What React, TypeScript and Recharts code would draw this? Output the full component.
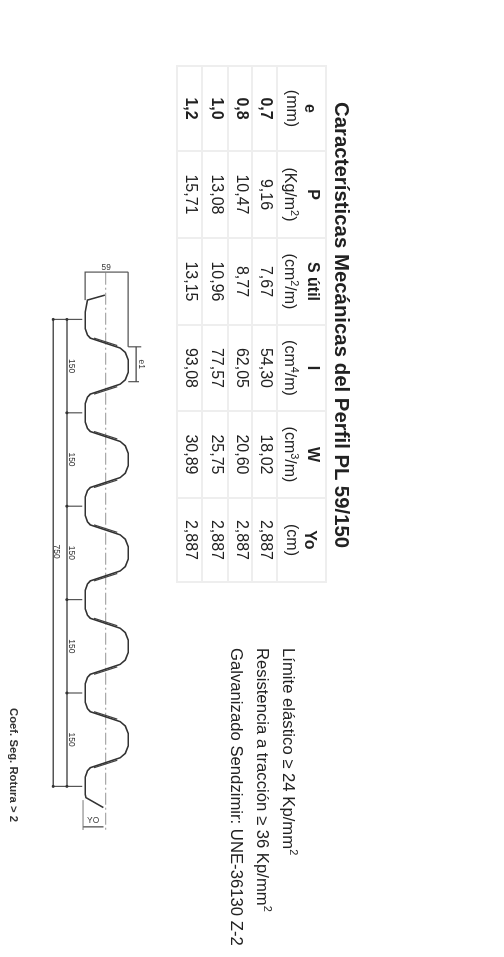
import React from 'react';
import { LineChart, Line, XAxis, YAxis, ReferenceDot } from 'recharts';

// table values
const tableTitle = 'Características Mecánicas del Perfil PL 59/150';
const thicknesses = ['0,7', '0,8', '1,0', '1,2'];
const weights = ['9,16', '10,47', '13,08', '15,71'];
const sections = ['7,67', '8,77', '10,96', '13,15'];
const inertias = ['54,30', '62,05', '77,57', '93,08'];
const moduli = ['18,02', '20,60', '25,75', '30,89'];
const centroids = ['2,887', '2,887', '2,887', '2,887'];

// sheet profile, mm along the sheet / mm of height
const profilePos = [
  -39, -31, -12,
  15, 25, 30, 46, 53, 65, 85, 97, 104, 120, 125, 135,
  165, 175, 180, 196, 203, 215, 235, 247, 254, 270, 275, 285,
  315, 325, 330, 346, 353, 365, 385, 397, 404, 420, 425, 435,
  465, 475, 480, 496, 503, 515, 535, 547, 554, 570, 575, 585,
  615, 625, 630, 646, 653, 665, 685, 697, 704, 720, 725, 735,
  763, 768, 784,
];
const profileHeight = [
  27, 3, 0,
  0, 3, 7, 48, 55, 59, 59, 55, 48, 7, 3, 0,
  0, 3, 7, 48, 55, 59, 59, 55, 48, 7, 3, 0,
  0, 3, 7, 48, 55, 59, 59, 55, 48, 7, 3, 0,
  0, 3, 7, 48, 55, 59, 59, 55, 48, 7, 3, 0,
  0, 3, 7, 48, 55, 59, 59, 55, 48, 7, 3, 0,
  0, 1, 25,
];

// second line on the flanks
const stiffPos = [
  30, 42, 43, 108, 120, 121,
  180, 192, 193, 258, 270, 271,
  330, 342, 343, 408, 420, 421,
  480, 492, 493, 558, 570, 571,
  630, 642, 643, 708, 720, 721,
];
const stiffHeight = [
  12, 44, null, 44, 12, null,
  12, 44, null, 44, 12, null,
  12, 44, null, 44, 12, null,
  12, 44, null, 44, 12, null,
  12, 44, null, 44, 12, null,
];

// dimension lines
const chainPos = [0, 150, 300, 450, 600, 750];
const chainHeight = [-25, -25, -25, -25, -25, -25];
const totalPos = [0, 750];
const totalHeight = [-44, -44];
const axisPos = [-75, 820];
const axisHeight = [28, 28];

const extensionPos = [
  0, 0, 1, 150, 150, 151, 300, 300, 301, 450, 450, 451, 600, 600, 601, 750, 750, 751,
  -76, -76, -75, -76, -76, -31, -30, -76, 44, 45, 44, 44, 45, 100, 100, 101, 70,
];
const extensionHeight = [
  -44, -4, null, -27, -4, null, -27, -4, null, -27, -4, null, -27, -4, null, -44, -4, null,
  0, 59, null, 59, 0, 0, null, 59, 59, null, 59, 77, null, 59, 74, null, null,
];
const e1Pos = [44, 100];
const e1Height = [70, 70];
const yoPos = [815, 815];
const yoHeight = [-3, 25];
const yoExtPos = [772, 820];
const yoExtHeight = [-3, -3];

const chainLabelPos = [75, 225, 375, 525, 675];

const toRows = (pos: number[], height: (number | null)[]) =>
  pos.map((p, i) => ({ p, h: height[i] }));

const textFont = '"Liberation Sans", Arial, sans-serif';
const grid = '2px solid #eeeeee';
const colWidths = [85, 87, 87, 86, 87, 84];
const rowHeights = [25, 24, 26, 25];

const headers = [
  { name: 'e', unit: <>(mm)</> },
  { name: 'P', unit: <>(Kg/m<sup style={{ fontSize: 11 }}>2</sup>)</> },
  { name: 'S útil', unit: <>(cm<sup style={{ fontSize: 11 }}>2</sup>/m)</> },
  { name: 'I', unit: <>(cm<sup style={{ fontSize: 11 }}>4</sup>/m)</> },
  { name: 'W', unit: <>(cm<sup style={{ fontSize: 11 }}>3</sup>/m)</> },
  { name: 'Yo', unit: <>(cm)</> },
];

const columns = [thicknesses, weights, sections, inertias, moduli, centroids];

const cellStyle: React.CSSProperties = {
  border: grid,
  padding: 0,
  textAlign: 'center',
  verticalAlign: 'middle',
  fontSize: 16,
  lineHeight: '18px',
  color: '#222',
};

const lineProps = { dataKey: 'h', dot: false, activeDot: false, isAnimationActive: false, type: 'linear' as const };

const dimLabel = (p: number, h: number, value: string, angle = 0, size = 8.5) => (
  <ReferenceDot
    key={value + p}
    x={p}
    y={h}
    r={0}
    fill="none"
    stroke="none"
    label={{ value, position: 'center', angle, fontSize: size, fill: '#333', fontFamily: textFont }}
  />
);

const App = () => (
  <div style={{ position: 'fixed', left: 0, top: 0, width: 504, height: 957, overflow: 'hidden', background: '#fff' }}>
    <div
      style={{
        position: 'absolute',
        left: 0,
        top: 0,
        width: 957,
        height: 504,
        transformOrigin: 'top left',
        transform: 'translate(504px, 0) rotate(90deg)',
        fontFamily: textFont,
        filter: 'blur(0.6px)',
      }}
    >
      <div style={{ position: 'absolute', left: 102, top: 150, fontSize: 20.4, fontWeight: 700, lineHeight: '24px', color: '#222', whiteSpace: 'nowrap' }}>
        {tableTitle}
      </div>

      <table style={{ position: 'absolute', left: 65, top: 177, width: 516, height: 149, borderCollapse: 'collapse', tableLayout: 'fixed' }}>
        <colgroup>
          {colWidths.map((w, i) => <col key={i} style={{ width: w }} />)}
        </colgroup>
        <tbody>
          <tr style={{ height: 49 }}>
            {headers.map((c) => (
              <td key={c.name} style={cellStyle}>
                <div style={{ fontWeight: 700 }}>{c.name}</div>
                <div>{c.unit}</div>
              </td>
            ))}
          </tr>
          {thicknesses.map((_, r) => (
            <tr key={r} style={{ height: rowHeights[r] }}>
              {columns.map((col, c) => (
                <td key={c} style={{ ...cellStyle, fontWeight: c === 0 ? 700 : 400 }}>
                  <span style={{ position: 'relative', top: -2 }}>{col[r]}</span>
                </td>
              ))}
            </tr>
          ))}
        </tbody>
      </table>

      <div style={{ position: 'absolute', left: 648, top: 203, fontSize: 16.7, lineHeight: '26px', color: '#222', whiteSpace: 'nowrap' }}>
        <div>Límite elástico ≥ 24 Kp/mm<sup style={{ fontSize: 11, lineHeight: 0 }}>2</sup></div>
        <div>Resistencia a tracción ≥ 36 Kp/mm<sup style={{ fontSize: 11, lineHeight: 0 }}>2</sup></div>
        <div>Galvanizado Sendzimir: UNE-36130 Z-2</div>
      </div>

      <div style={{ position: 'absolute', left: 708, top: 484, fontSize: 11.3, fontWeight: 700, color: '#333', whiteSpace: 'nowrap' }}>
        Coef. Seg. Rotura &gt; 2
      </div>

      <div style={{ position: 'absolute', left: 0, top: 0 }}>
        <LineChart width={957} height={504} margin={{ top: 0, right: 0, bottom: 0, left: 0 }}>
          <XAxis type="number" dataKey="p" domain={[-513, 1024]} hide allowDataOverflow />
          <YAxis type="number" domain={[-117, 575]} hide allowDataOverflow />
          <Line {...lineProps} data={toRows(axisPos, axisHeight)} stroke="#aaa" strokeWidth={1.2} strokeDasharray="12 3 2 3" />
          <Line {...lineProps} data={toRows(extensionPos, extensionHeight)} stroke="#555" strokeWidth={1.2} />
          <Line {...lineProps} data={toRows(totalPos, totalHeight)} stroke="#555" strokeWidth={1.5} dot={{ r: 1.5, fill: '#333', stroke: 'none' }} />
          <Line {...lineProps} data={toRows(chainPos, chainHeight)} stroke="#555" strokeWidth={1.5} dot={{ r: 1.5, fill: '#333', stroke: 'none' }} />
          <Line {...lineProps} data={toRows(e1Pos, e1Height)} stroke="#444" strokeWidth={1.2} />
          <Line {...lineProps} data={toRows(yoPos, yoHeight)} stroke="#444" strokeWidth={1.2} />
          <Line {...lineProps} data={toRows(yoExtPos, yoExtHeight)} stroke="#777" strokeWidth={1} />
          <Line {...lineProps} data={toRows(stiffPos, stiffHeight)} stroke="#444" strokeWidth={1.2} />
          <Line {...lineProps} data={toRows(profilePos, profileHeight)} stroke="#333" strokeWidth={1.6} />
          {chainLabelPos.map((p) => dimLabel(p, -18, '150'))}
          {dimLabel(373, -39, '750')}
          {dimLabel(-84, 29, '59', -90)}
          {dimLabel(72, 78, 'e1')}
          {dimLabel(804, 11, 'YO', -90)}
        </LineChart>
      </div>
    </div>
  </div>
);

export default App;
